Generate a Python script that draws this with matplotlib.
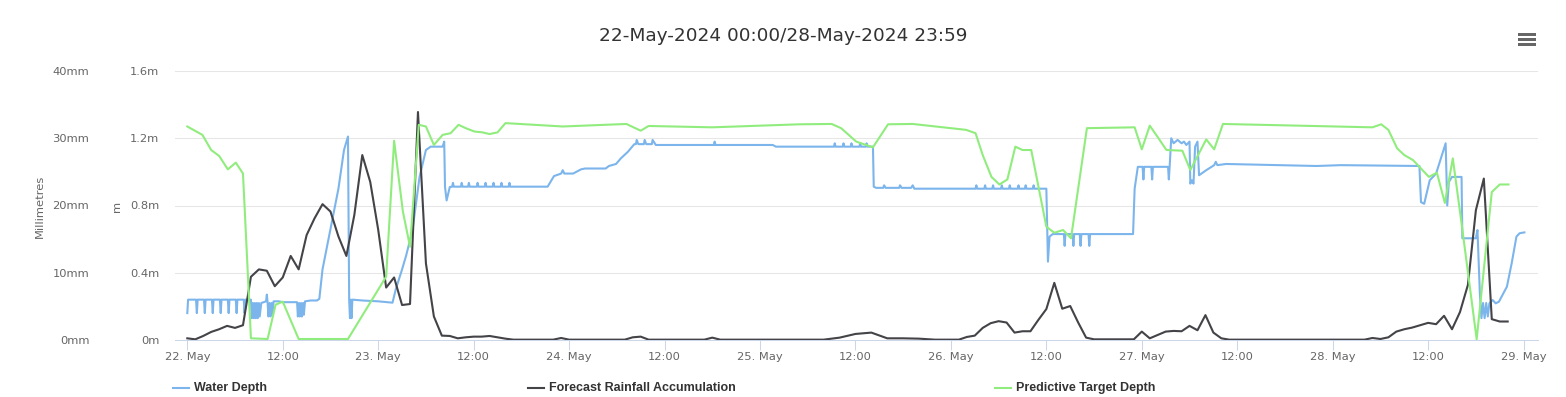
import matplotlib
matplotlib.use("Agg")
import matplotlib.pyplot as plt
from matplotlib.patches import Rectangle
from matplotlib.lines import Line2D

W, H = 1566, 397

# ---------------- data (hours since 22-May-2024 00:00) ----------------
depth_hours = [0.0, 0.1, 1.1, 1.2, 1.3, 2.1, 2.2, 2.3, 3.1, 3.2, 3.3, 4.1, 4.2, 4.3,
               5.1, 5.2, 5.3, 6.1, 6.2, 6.3, 7.1, 7.2, 7.3,
               8.0, 8.1, 8.25, 8.35, 8.5, 8.6, 8.75, 8.85, 9.0, 9.1, 9.3,
               9.9, 10.0, 10.1, 10.2, 10.35, 10.45, 10.6, 10.7, 10.85,
               11.5, 12.0, 13.8, 13.9, 14.05, 14.15, 14.3, 14.4, 14.55, 14.65, 14.8,
               15.5, 16.3, 16.6, 17.0, 18.0, 19.0, 19.7, 20.2,
               20.35, 20.45, 20.55, 20.65, 20.75, 22.0, 24.0, 25.8, 26.2, 27.0, 27.5,
               28.3, 29.2, 30.0, 30.6, 32.1, 32.3, 32.4, 32.6, 33.0,
               33.3, 33.4, 33.5, 34.4, 34.5, 34.6, 35.3, 35.4, 35.5, 36.4, 36.5, 36.6,
               37.4, 37.5, 37.6, 38.4, 38.5, 38.6, 39.4, 39.5, 39.6, 40.4, 40.5, 40.6,
               45.3, 46.1, 47.0, 47.2, 47.4, 48.5, 49.5, 50.0, 52.6, 53.0, 53.9, 54.5,
               55.4, 56.2, 56.4, 56.5, 56.7, 57.4, 57.5, 57.7, 58.4, 58.5, 58.9,
               66.2, 66.3, 66.4, 73.6, 74.0,
               81.3, 81.4, 81.5, 82.4, 82.5, 82.6, 83.4, 83.5, 83.6, 84.5, 84.6, 84.7,
               85.3, 85.4, 85.5, 86.2, 86.3, 86.6, 87.5, 87.6, 87.8, 89.5, 89.6, 89.8,
               91.0, 91.2, 91.4, 95.5,
               99.1, 99.2, 99.3, 100.2, 100.3, 100.4, 101.2, 101.3, 101.4, 102.3, 102.4,
               102.5, 103.3, 103.4, 103.5, 104.4, 104.5, 104.6, 105.3, 105.4, 105.5,
               106.3, 106.4, 106.5, 108.0, 108.2, 108.4, 108.8,
               110.2, 110.3, 110.4, 111.3, 111.4, 111.5, 112.2, 112.3, 112.4, 113.3,
               113.4, 113.5, 118.9, 119.1, 119.5, 119.7, 120.1, 120.2, 120.3, 121.2,
               121.3, 121.4, 123.3, 123.4, 123.5, 123.7, 124.0, 124.5, 125.0, 125.3,
               125.6, 126.0, 126.1, 126.3, 126.5, 126.7, 127.0, 127.2, 128.1, 129.1,
               129.3, 129.5, 130.6, 142.0, 145.0, 154.9, 155.1, 155.5, 156.2, 157.0,
               157.6, 158.2, 158.4, 158.6, 159.0, 160.2, 160.3, 162.0, 162.2, 162.5,
               162.7, 162.9, 163.1, 163.3, 163.5, 163.7, 164.1, 164.5, 164.9, 165.9,
               166.5, 167.1, 167.5, 168.1]
depth_m = [0.16, 0.24, 0.24, 0.16, 0.24, 0.24, 0.16, 0.24, 0.24, 0.16, 0.24, 0.24, 0.16, 0.24,
           0.24, 0.16, 0.24, 0.24, 0.16, 0.24, 0.24, 0.16, 0.24,
           0.24, 0.13, 0.22, 0.13, 0.22, 0.13, 0.22, 0.13, 0.22, 0.14, 0.22,
           0.23, 0.27, 0.22, 0.14, 0.22, 0.14, 0.22, 0.15, 0.23,
           0.23, 0.225, 0.225, 0.14, 0.22, 0.14, 0.22, 0.14, 0.22, 0.15, 0.23,
           0.235, 0.235, 0.245, 0.42, 0.66, 0.90, 1.13, 1.21,
           0.24, 0.13, 0.24, 0.13, 0.24, 0.235, 0.23, 0.222, 0.30, 0.42, 0.50,
           0.65, 0.97, 1.13, 1.15, 1.15, 1.18, 0.91, 0.83, 0.91,
           0.912, 0.935, 0.912, 0.912, 0.935, 0.912, 0.912, 0.935, 0.912, 0.912, 0.935, 0.912,
           0.912, 0.935, 0.912, 0.912, 0.935, 0.912, 0.912, 0.935, 0.912, 0.912, 0.935, 0.912,
           0.912, 0.975, 0.99, 1.01, 0.99, 0.99, 1.015, 1.02, 1.02, 1.035, 1.047, 1.08,
           1.12, 1.165, 1.165, 1.19, 1.165, 1.165, 1.19, 1.165, 1.165, 1.19, 1.16,
           1.16, 1.18, 1.16, 1.16, 1.15,
           1.15, 1.17, 1.15, 1.15, 1.17, 1.15, 1.15, 1.17, 1.15, 1.15, 1.17, 1.15,
           1.15, 1.17, 1.15, 1.15, 0.912, 0.905, 0.905, 0.92, 0.905, 0.905, 0.92, 0.905,
           0.905, 0.92, 0.9, 0.9,
           0.9, 0.92, 0.9, 0.9, 0.92, 0.9, 0.9, 0.92, 0.9, 0.9, 0.92,
           0.9, 0.9, 0.92, 0.9, 0.9, 0.92, 0.9, 0.9, 0.92, 0.9,
           0.9, 0.92, 0.9, 0.9, 0.466, 0.615, 0.63,
           0.63, 0.56, 0.63, 0.63, 0.56, 0.63, 0.63, 0.56, 0.63, 0.63,
           0.56, 0.63, 0.63, 0.90, 1.03, 1.03, 1.03, 0.955, 1.03, 1.03,
           0.955, 1.03, 1.03, 0.955, 1.03, 1.20, 1.17, 1.19, 1.17, 1.18,
           1.16, 1.18, 0.93, 0.95, 0.93, 1.15, 1.18, 0.98, 1.01, 1.04,
           1.06, 1.04, 1.047, 1.035, 1.04, 1.035, 0.82, 0.81, 0.95, 0.99,
           1.08, 1.17, 0.80, 0.94, 0.97, 0.97, 0.605, 0.605, 0.654, 0.278,
           0.13, 0.22, 0.13, 0.22, 0.14, 0.218, 0.238, 0.218, 0.228, 0.317,
           0.456, 0.615, 0.635, 0.64]

rain_hours = [0, 1, 2, 3, 4, 5, 6, 7, 8, 9, 10, 11, 12, 13, 14, 15, 16, 17, 18, 19,
              20, 21, 22, 23, 24, 25, 26, 27, 28, 29, 30, 31, 32, 33, 34, 35, 36, 37,
              38, 39, 40, 41, 46, 47, 48, 55, 56, 57, 58, 65, 66, 67, 80, 81, 82, 84,
              86, 88, 90, 92, 94, 97, 98, 99, 100, 101, 102, 103, 104, 105, 106, 107,
              108, 109, 110, 111, 112, 113, 114, 119, 120, 121, 122, 123, 124, 125,
              126, 127, 128, 129, 130, 131, 148, 149, 150, 151, 152, 153, 154, 155,
              156, 157, 158, 159, 160, 161, 162, 163, 164, 165, 166]
rain_mm = [0.25, 0.1, 0.6, 1.2, 1.6, 2.1, 1.8, 2.2, 9.4, 10.5, 10.3, 8.0, 9.3, 12.5,
           10.5, 15.6, 18.1, 20.2, 19.1, 15.4, 12.5, 18.6, 27.5, 23.5, 16.4, 7.8, 9.3,
           5.2, 5.35, 33.9, 11.4, 3.5, 0.65, 0.6, 0.25, 0.4, 0.5, 0.5, 0.6, 0.4, 0.2,
           0.05, 0.05, 0.3, 0.05, 0.05, 0.4, 0.5, 0.05, 0.05, 0.35, 0.05, 0.05, 0.2,
           0.35, 0.9, 1.1, 0.25, 0.25, 0.2, 0.05, 0.05, 0.45, 0.65, 1.8, 2.5, 2.8, 2.6,
           1.1, 1.3, 1.3, 3.0, 4.6, 8.5, 4.65, 5.05, 2.6, 0.35, 0.1, 0.1, 1.25, 0.25,
           0.75, 1.25, 1.35, 1.3, 2.1, 1.45, 3.7, 1.1, 0.25, 0.05, 0.05, 0.3, 0.15,
           0.4, 1.25, 1.6, 1.85, 2.2, 2.55, 2.35, 3.6, 1.6, 4.15, 8.2, 19.3, 24.0, 3.1,
           2.75, 2.75]

target_hours = [0, 1.9, 3, 4, 5.1, 6.1, 7, 8, 10.1, 11.1, 12, 14, 20.2, 25, 26, 27.1,
                28, 29.1, 30, 31, 32.1, 33.1, 34.1, 35, 36.1, 37.1, 38, 39, 40, 47.2,
                55.2, 57, 58, 66, 77, 81, 82.2, 84.1, 86.2, 88.1, 91.2, 97.9, 99.1,
                100, 101.1, 102.1, 103.1, 104.1, 105, 106.1, 108, 109, 110.1, 111.1,
                113.1, 119.1, 120, 121, 122.1, 123.1, 125.1, 126.1, 128.1, 129.1,
                130.2, 149, 150.1, 151, 152.1, 153, 154.1, 155.1, 156.1, 157.1, 158.1,
                159.1, 160.2, 162.1, 164, 165, 166.1]
target_m = [1.27, 1.22, 1.13, 1.095, 1.015, 1.055, 0.99, 0.01, 0.006, 0.21, 0.228,
            0.006, 0.006, 0.377, 1.185, 0.765, 0.555, 1.28, 1.27, 1.16, 1.22, 1.23,
            1.28, 1.26, 1.24, 1.235, 1.225, 1.235, 1.29, 1.27, 1.285, 1.245, 1.273,
            1.265, 1.283, 1.285, 1.26, 1.18, 1.146, 1.283, 1.285, 1.25, 1.23, 1.10,
            0.97, 0.925, 0.955, 1.15, 1.13, 1.13, 0.674, 0.638, 0.654, 0.605, 1.26,
            1.265, 1.134, 1.275, 1.2, 1.13, 1.126, 1.011, 1.193, 1.134, 1.285, 1.265,
            1.283, 1.25, 1.14, 1.10, 1.07, 1.02, 0.97, 0.995, 0.815, 1.08, 0.694,
            0.004, 0.88, 0.925, 0.925]

x_tick_hours = list(range(0, 169, 12))
x_tick_labels = ["22. May", "12:00", "23. May", "12:00", "24. May", "12:00",
                 "25. May", "12:00", "26. May", "12:00", "27. May", "12:00",
                 "28. May", "12:00", "29. May"]
m_ticks = [0, 0.4, 0.8, 1.2, 1.6]
m_tick_labels = ["0m", "0.4m", "0.8m", "1.2m", "1.6m"]
mm_ticks = [0, 10, 20, 30, 40]
mm_tick_labels = ["0mm", "10mm", "20mm", "30mm", "40mm"]

series_names = ["Water Depth", "Forecast Rainfall Accumulation", "Predictive Target Depth"]
series_colors = ["#7cb5ec", "#434348", "#90ed7d"]
title = "22-May-2024 00:00/28-May-2024 23:59"

# ---------------- figure ----------------
fig = plt.figure(figsize=(W / 100, H / 100), dpi=100)
fig.patch.set_facecolor("white")

def fx(px):
    return px / W

def fy(py):
    return 1 - py / H

left, right, top, bottom = 175, 1538, 71, 340
rect = [fx(left), fy(bottom), fx(right) - fx(left), fy(top) - fy(bottom)]

ax = fig.add_axes(rect)
ax_mm = ax.twinx()
ax_g = ax.twinx()

px_per_hour = 190.9 / 24.0
xlim = (-(187.3 - left) / px_per_hour, (right - 187.3) / px_per_hour)

lw = 1.5
ax.plot(depth_hours, depth_m, color=series_colors[0], lw=lw, solid_joinstyle="round", zorder=3)
ax_mm.plot(rain_hours, rain_mm, color=series_colors[1], lw=lw, solid_joinstyle="round", zorder=3)
ax_g.plot(target_hours, target_m, color=series_colors[2], lw=lw, solid_joinstyle="round", zorder=3)

for a in (ax, ax_mm, ax_g):
    a.set_xlim(*xlim)
    for s in a.spines.values():
        s.set_visible(False)
    a.patch.set_visible(False)

ax.set_ylim(0, 1.6)
ax_g.set_ylim(0, 1.6)
ax_mm.set_ylim(0, 40)

# grid
for v in m_ticks[1:]:
    ax.axhline(v, color="#e6e6e6", lw=0.75, zorder=0)
ax.spines["bottom"].set_visible(True)
ax.spines["bottom"].set_color("#ccd6eb")
ax.spines["bottom"].set_linewidth(0.75)

# x axis
ax.set_xticks(x_tick_hours)
ax.set_xticklabels(x_tick_labels)
ax.tick_params(axis="x", length=7.2, width=0.75, color="#ccd6eb", labelsize=8.25,
               labelcolor="#666666", pad=1.5)

# m axis (inner, left)
ax.set_yticks(m_ticks)
ax.set_yticklabels(m_tick_labels)
ax.tick_params(axis="y", length=0, labelsize=8.25, labelcolor="#666666", pad=11.3)

# mm axis (outer, left)
ax_mm.yaxis.tick_left()
ax_mm.set_yticks(mm_ticks)
ax_mm.set_yticklabels(mm_tick_labels)
ax_mm.tick_params(axis="y", length=0, labelsize=8.25, labelcolor="#666666", pad=61.7)

ax_g.set_yticks([])

# axis titles
fig.text(fx(40), fy(206), "Millimetres", rotation=90, ha="center", va="center",
         fontsize=8.25, color="#666666")
fig.text(fx(117), fy(206), "m", rotation=90, ha="center", va="center",
         fontsize=8.25, color="#666666")

# title
fig.text(fx(783), fy(36), title, ha="center", va="center", fontsize=13.3, color="#333333")

# menu icon
for yy in (33.3, 38.3, 43.3):
    fig.add_artist(Rectangle((fx(1518.3), fy(yy + 2.4)), fx(17.4), 2.4 / H,
                             transform=fig.transFigure, color="#666666", lw=0))

# legend
legend_x = [173, 528, 995]
for name, col, lx in zip(series_names, series_colors, legend_x):
    fig.add_artist(Line2D([fx(lx), fx(lx + 16)], [fy(388), fy(388)], color=col, lw=1.5,
                          transform=fig.transFigure))
    fig.text(fx(lx + 21), fy(388), name, ha="left", va="center", fontsize=9,
             fontweight="bold", color="#333333", family="Liberation Sans")

fig.savefig("out.png", dpi=100)
